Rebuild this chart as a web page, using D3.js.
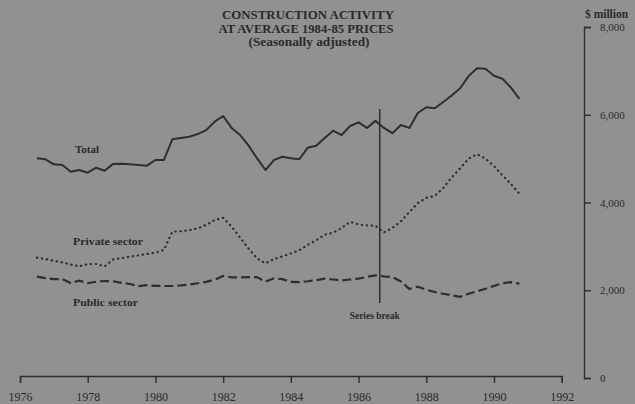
<!DOCTYPE html>
<html>
<head>
<meta charset="utf-8">
<script src="https://cdn.jsdelivr.net/npm/d3@7"></script>
<style>
  html, body { margin: 0; padding: 0; background: #919191; }
  svg { display: block; }
  text { font-family: "Liberation Serif", "DejaVu Serif", serif; fill: #2a2a2a; }
</style>
</head>
<body>
<svg id="chart" width="635" height="404"></svg>
<script>
// ---- data (quarterly, starting Q3 1976, $ million at average 1984-85 prices) ----
const firstYear = 1976;
const firstQuarter = 3;
const total = [5007,4985,4871,4855,4702,4741,4679,4793,4725,4880,
               4885,4870,4855,4840,4969,4969,5440,5470,5500,5560,
               5650,5842,5972,5700,5538,5300,5010,4740,4968,5044,
               5010,4985,5249,5295,5470,5636,5538,5744,5828,5700,
               5860,5700,5580,5766,5700,6040,6170,6147,6290,6440,
               6603,6880,7060,7050,6890,6820,6620,6360];
const privateSector = [2745,2710,2672,2634,2585,2545,2595,2598,2545,2700,
               2735,2765,2795,2826,2860,2917,3334,3345,3370,3410,
               3490,3600,3650,3450,3200,2950,2725,2614,2710,2770,
               2840,2910,3035,3140,3265,3313,3420,3560,3500,3480,
               3470,3320,3420,3570,3780,3990,4105,4150,4330,4570,
               4780,5000,5100,5000,4830,4620,4420,4200];
const publicSector = [2309,2275,2255,2255,2165,2220,2160,2195,2211,2205,
               2170,2142,2095,2115,2100,2097,2100,2110,2130,2160,
               2190,2240,2325,2295,2295,2300,2300,2195,2272,2252,
               2190,2185,2205,2230,2265,2245,2222,2245,2265,2305,
               2340,2315,2300,2200,2030,2080,2010,1960,1920,1885,
               1850,1920,1975,2035,2100,2160,2185,2150];
const yearTicks = [1976,1978,1980,1982,1984,1986,1988,1990,1992];
const valueTicks = [0,2000,4000,6000,8000];
const seriesBreakYear = 1986.625;
const titleLines = ["CONSTRUCTION ACTIVITY", "AT AVERAGE 1984-85 PRICES", "(Seasonally adjusted)"];
const seriesLabels = ["Total", "Private sector", "Public sector"];

// ---- layout ----
const svg = d3.select("#chart");
const ink = "#2e2e2e";

svg.append("rect").attr("width", 635).attr("height", 404).attr("fill", "#919191");

const x = d3.scaleLinear().domain([1976, 1992]).range([20, 561.7]);
const y = d3.scaleLinear().domain([0, 8000]).range([378, 27]);

const dateOf = i => firstYear + (firstQuarter - 1) / 4 + i / 4;
const line = d3.line().x((d, i) => x(dateOf(i))).y(d => y(d));

// x axis
const xAxis = svg.append("g").attr("transform", "translate(0,376)")
  .call(d3.axisBottom(x).tickValues(yearTicks).tickFormat(d3.format("d"))
        .tickSize(7).tickPadding(9));
xAxis.selectAll("path, line").attr("stroke", ink).attr("stroke-width", 1.4);
xAxis.selectAll("text").attr("font-size", 12).attr("fill", "#2a2a2a")
  .attr("font-family", "Liberation Serif, serif");

// y axis (right)
const yAxis = svg.append("g").attr("transform", "translate(584,0)")
  .call(d3.axisRight(y).tickValues(valueTicks).tickFormat(d3.format(","))
        .tickSize(7).tickPadding(9));
yAxis.selectAll("path, line").attr("stroke", ink).attr("stroke-width", 1.4);
yAxis.selectAll("text").attr("font-size", 11).attr("fill", "#2a2a2a")
  .attr("font-family", "Liberation Serif, serif");

svg.append("text").attr("x", 585).attr("y", 18)
  .attr("font-size", 11.5).attr("font-weight", "bold").text("$ million");

// title
const title = svg.append("g").attr("text-anchor", "middle");
title.append("text").attr("x", 308).attr("y", 19).attr("font-size", 12.5)
  .attr("font-weight", "bold").attr("textLength", 172).attr("lengthAdjust", "spacingAndGlyphs")
  .text(titleLines[0]);
title.append("text").attr("x", 306).attr("y", 33).attr("font-size", 12.5)
  .attr("font-weight", "bold").attr("textLength", 175).attr("lengthAdjust", "spacingAndGlyphs")
  .text(titleLines[1]);
title.append("text").attr("x", 309).attr("y", 46).attr("font-size", 12)
  .attr("font-weight", "bold").attr("textLength", 121).attr("lengthAdjust", "spacingAndGlyphs")
  .text(titleLines[2]);

// series
svg.append("path").datum(total).attr("d", line)
  .attr("fill", "none").attr("stroke", ink).attr("stroke-width", 2)
  .attr("stroke-linejoin", "round");
svg.append("path").datum(privateSector).attr("d", line)
  .attr("fill", "none").attr("stroke", ink).attr("stroke-width", 2.2)
  .attr("stroke-linecap", "round").attr("stroke-dasharray", "0.4,4.6");
svg.append("path").datum(publicSector).attr("d", line)
  .attr("fill", "none").attr("stroke", ink).attr("stroke-width", 2.2)
  .attr("stroke-dasharray", "9,4");

// series break
svg.append("line").attr("x1", x(seriesBreakYear)).attr("x2", x(seriesBreakYear))
  .attr("y1", 109).attr("y2", 303).attr("stroke", ink).attr("stroke-width", 1.5);
svg.append("text").attr("x", x(seriesBreakYear) - 5).attr("y", 319)
  .attr("text-anchor", "middle").attr("font-size", 10.5).attr("font-weight", "bold")
  .attr("textLength", 50).attr("lengthAdjust", "spacingAndGlyphs")
  .text("Series break");

// series labels
svg.append("text").attr("x", 75).attr("y", 153).attr("font-size", 11)
  .attr("font-weight", "bold").text(seriesLabels[0]);
svg.append("text").attr("x", 73).attr("y", 244.5).attr("font-size", 11)
  .attr("font-weight", "bold").attr("textLength", 70).attr("lengthAdjust", "spacingAndGlyphs")
  .text(seriesLabels[1]);
svg.append("text").attr("x", 73).attr("y", 306).attr("font-size", 11)
  .attr("font-weight", "bold").attr("textLength", 65).attr("lengthAdjust", "spacingAndGlyphs")
  .text(seriesLabels[2]);
</script>
</body>
</html>
